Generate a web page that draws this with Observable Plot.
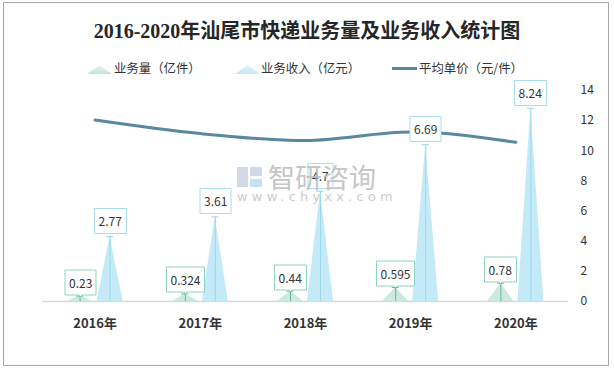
<!DOCTYPE html>
<html><head><meta charset="utf-8">
<script src="https://cdn.jsdelivr.net/npm/d3@7"></script>
<script src="https://cdn.jsdelivr.net/npm/@observablehq/plot@0.6"></script>
<style>
body{margin:0;background:#fff;}
#wrap{position:relative;width:614px;height:368px;overflow:hidden;font-family:"Noto Sans CJK SC","Noto Sans",sans-serif;color:#333;background:#fff;}
#frame{position:absolute;left:3px;top:2px;width:606px;height:364px;box-sizing:border-box;border:1px solid #a6a6a6;pointer-events:none;}
#title{position:absolute;left:0;top:18px;width:614px;height:26px;line-height:26px;text-align:center;font-size:20px;font-weight:bold;font-family:"Liberation Serif","Noto Sans CJK SC",serif;color:#262626;}
.leg{position:absolute;top:60px;height:16px;line-height:16px;font-size:12.4px;white-space:nowrap;color:#333;}
.icon{position:absolute;top:65px;width:25px;height:9px;clip-path:polygon(0 100%,50% 0,100% 100%);}
#chart{position:absolute;left:0;top:78px;}
#wm{position:absolute;left:0;top:0;width:614px;height:368px;pointer-events:none;opacity:0.85;}
</style></head>
<body>
<div id="wrap">
  <div id="title">2016-2020年汕尾市快递业务量及业务收入统计图</div>
  <div class="icon" style="left:87px;background:linear-gradient(#eef8f5,#bfe3d9);"></div>
  <div class="leg" style="left:114px;">业务量（亿件）</div>
  <div class="icon" style="left:235px;background:linear-gradient(#e3f5fc,#bfe7f6);"></div>
  <div class="leg" style="left:261px;">业务收入（亿元）</div>
  <div style="position:absolute;left:392px;top:67px;width:25px;height:3px;background:#5889a0;"></div>
  <div class="leg" style="left:419px;">平均单价（元/件）</div>
  <div id="chart"></div>
  <div id="wm">
    <div style="position:absolute;left:237px;top:167px;width:11px;height:20px;background:#c9d3e6;"></div>
    <div style="position:absolute;left:250px;top:167px;width:12px;height:9px;background:#c9d3e6;"></div>
    <div style="position:absolute;left:250px;top:179px;width:12px;height:8px;background:#bfdcf0;"></div>
    <div style="position:absolute;left:268px;top:160px;font-size:27px;line-height:34px;color:#bdbdbd;letter-spacing:0px;">智研咨询</div>
    <div style="position:absolute;left:237px;top:189px;font-size:13px;line-height:16px;color:#c4c4c4;letter-spacing:4.2px;font-family:'DejaVu Sans',sans-serif;">www.chyxx.com</div>
  </div>
  <div id="frame"></div>
</div>
<script>
const years = ["2016年", "2017年", "2018年", "2019年", "2020年"];
const volume = [0.23, 0.324, 0.44, 0.595, 0.78];      // 业务量（亿件）
const revenue = [2.77, 3.61, 4.7, 6.69, 8.24];        // 业务收入（亿元）
const avgPrice = [12.04, 11.14, 10.68, 11.24, 10.56]; // 平均单价（元/件）
const rightTicks = [0, 2, 4, 6, 8, 10, 12, 14];
const leftMax = 9;   // hidden left axis for the spikes
const rightMax = 14; // right axis for the price line

const W = 614, H = 290, mL = 42, mR = 46, mT = 12, mB = 67;
const pxPerUnit = (W - mL - mR) / years.length;
const off = 15 / pxPerUnit, hw = 13 / pxPerUnit, cap = 3.5 / pxPerUnit;
const toY = v => v * rightMax / leftMax;

function spikes(values, side, name) {
  const verts = [], peaks = [];
  values.forEach((v, i) => {
    const c = i + side * off;
    verts.push({key: name + i, x: c - hw, y: 0}, {key: name + i, x: c, y: toY(v)}, {key: name + i, x: c + hw, y: 0});
    peaks.push({x: c, y: toY(v), v});
  });
  return {verts, peaks};
}
const vol = spikes(volume, -1, "vol");
const rev = spikes(revenue, 1, "rev");
const line = avgPrice.map((p, i) => ({x: i, y: p}));

const chart = Plot.plot({
  width: W, height: H,
  marginTop: mT, marginBottom: mB, marginLeft: mL, marginRight: mR,
  x: {domain: [-0.5, years.length - 0.5]},
  y: {domain: [0, rightMax]},
  style: {fontFamily: '"Noto Sans CJK SC","Noto Sans",sans-serif', fontSize: "12px", color: "#333", background: "transparent"},
  marks: [
    Plot.ruleY([0], {stroke: "#d9d9d9", strokeWidth: 1.5}),
    Plot.areaY(vol.verts, {x: "x", y: "y", z: "key", fill: "#cce9e0"}),
    Plot.areaY(rev.verts, {x: "x", y: "y", z: "key", fill: "#c4eaf8"}),
    Plot.ruleX(vol.peaks, {x: "x", y1: 0, y2: "y", stroke: "#5fb4a2", strokeWidth: 1}),
    Plot.ruleX(rev.peaks, {x: "x", y1: 0, y2: "y", stroke: "#9ad8ee", strokeWidth: 1}),
    Plot.ruleY(vol.peaks, {y: "y", x1: d => d.x - cap, x2: d => d.x + cap, stroke: "#5fb4a2", strokeWidth: 1}),
    Plot.ruleY(rev.peaks, {y: "y", x1: d => d.x - cap, x2: d => d.x + cap, stroke: "#9ad8ee", strokeWidth: 1}),
    Plot.line(line, {x: "x", y: "y", stroke: "#5889a0", strokeWidth: 3, curve: "monotone-x"}),
    Plot.tip(vol.peaks, {x: "x", y: "y", title: d => String(d.v), anchor: "bottom", pointerSize: 3, textPadding: 4,
      fill: "white", stroke: "#8fd3c2", pathFilter: "none", fontSize: 12}),
    Plot.tip(rev.peaks, {x: "x", y: "y", title: d => String(d.v), anchor: "bottom", pointerSize: 0, textPadding: 4, dy: -3,
      fill: "white", stroke: "#a9dcef", pathFilter: "none", fontSize: 12}),
    Plot.axisX({ticks: d3.range(years.length), tickFormat: i => years[i], tickSize: 0, tickPadding: 17,
      fontWeight: "bold", fontSize: 13, label: null}),
    Plot.axisY({anchor: "right", ticks: rightTicks, tickSize: 0, tickPadding: 12, label: null, fontSize: 12})
  ]
});
document.getElementById("chart").appendChild(chart);
</script>
</body></html>
